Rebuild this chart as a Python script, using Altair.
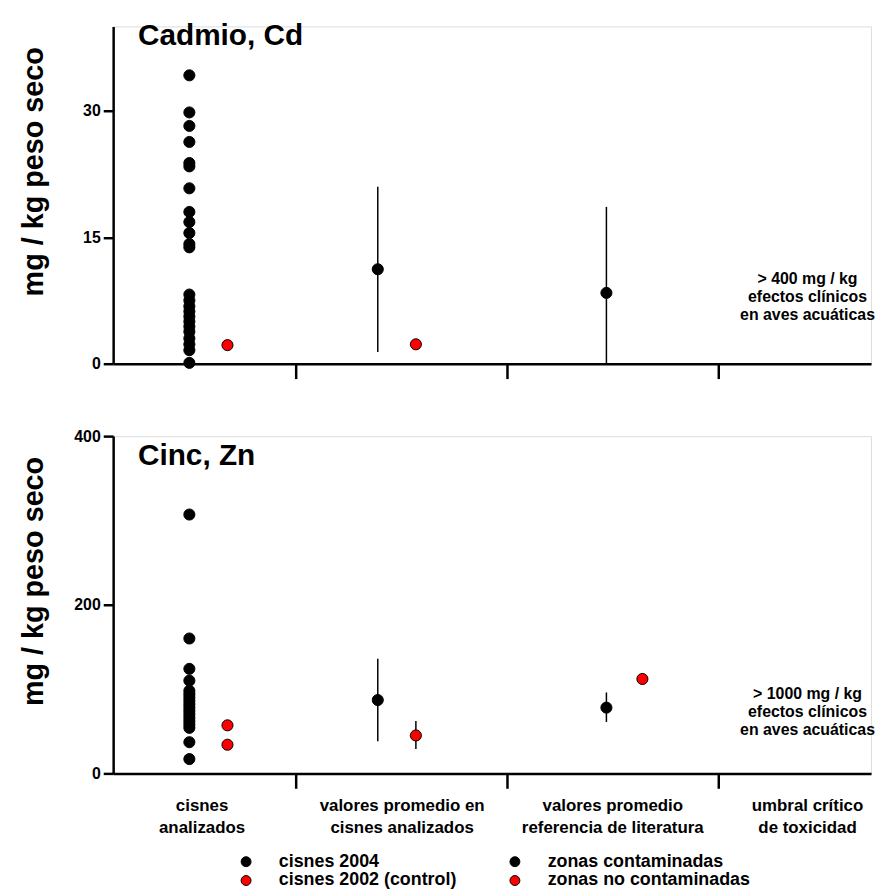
import altair as alt
import pandas as pd

FONT = "Liberation Sans"
BLACK = "#000000"
RED = "#ff0000"

# ---------------- data ----------------
# x axis is a numeric position scale: ticks at 1, 2, 3 separate the four groups
cd_2004 = [34.2, 29.8, 28.2, 26.3, 23.8, 23.4, 20.8, 18.0, 16.8, 15.5, 14.2, 13.8,
           8.2, 7.5, 6.8, 6.2, 5.6, 5.0, 4.4, 3.8, 3.0, 2.3, 1.6, 0.1]
cd_2002 = [2.2]
zn_2004 = [307, 160, 124, 110, 98, 94, 90, 86, 82, 78, 74, 70, 66, 62, 58, 54, 37, 17]
zn_2002 = [57, 34]
x_2004 = 0.50
x_2002 = 0.68

mean_group = ["cisnes 2004", "cisnes 2002 (control)", "zonas contaminadas", "zonas no contaminadas"]
mean_x = [1.39, 1.57, 2.47, 2.64]
cd_mean = [11.2, 2.3, 8.4, None]
cd_low = [1.4, None, 0.0, None]
cd_high = [21.0, None, 18.6, None]
zn_mean = [87, 45, 78, 112]
zn_low = [38, 29, 61, None]
zn_high = [136, 62, 96, None]

cat_labels = ["cisnes\nanalizados", "valores promedio en\ncisnes analizados",
              "valores promedio\nreferencia de literatura", "umbral crítico\nde toxicidad"]
cat_label_x = [0.56, 1.505, 2.50, 3.42]

note_x = 3.42
cd_note = "> 400 mg / kg\nefectos clínicos\nen aves acuáticas"
cd_note_y = 10.0
zn_note = "> 1000 mg / kg\nefectos clínicos\nen aves acuáticas"
zn_note_y = 94

legend_order = ["cisnes 2004", "cisnes 2002 (control)", "zonas contaminadas", "zonas no contaminadas"]
legend_colors = [BLACK, RED, BLACK, RED]

X_DOMAIN = [0.14, 3.72]
W, H = 764, 340


def points_frame(v2004, v2002, mx, mv, mlo, mhi):
    rows = [{"x": x_2004, "v": v, "g": "cisnes 2004"} for v in v2004]
    rows += [{"x": x_2002, "v": v, "g": "cisnes 2002 (control)"} for v in v2002]
    for g, x, v in zip(mean_group, mx, mv):
        if v is not None:
            rows.append({"x": x, "v": v, "g": g})
    pts = pd.DataFrame(rows)
    err = pd.DataFrame([{"x": x, "lo": lo, "hi": hi}
                        for x, lo, hi in zip(mx, mlo, mhi) if lo is not None])
    return pts, err


def panel(v2004, v2002, mv, mlo, mhi, ydom, yticks, title, note, note_y, bottom):
    pts, err = points_frame(v2004, v2002, mean_x, mv, mlo, mhi)
    xscale = alt.Scale(domain=X_DOMAIN, nice=False, zero=False)
    yscale = alt.Scale(domain=ydom, nice=False, zero=True)
    xaxis = alt.Axis(values=[1, 2, 3], labels=False, title=None, grid=False,
                     tickSize=15, tickWidth=2.5, domainWidth=2.5,
                     domainColor=BLACK, tickColor=BLACK)
    yaxis = alt.Axis(values=yticks, title="mg / kg peso seco", grid=False,
                     tickSize=10, tickWidth=2.5, domainWidth=2.5,
                     domainColor=BLACK, tickColor=BLACK,
                     labelFont=FONT, labelFontSize=16, labelFontWeight="bold",
                     labelColor=BLACK, labelPadding=3,
                     titleFont=FONT, titleFontSize=29, titleFontWeight="bold",
                     titleColor=BLACK, titleY=146, titleX=-65)

    rules = alt.Chart(err).mark_rule(color=BLACK, strokeWidth=1.5).encode(
        x=alt.X("x:Q", scale=xscale, axis=xaxis),
        y=alt.Y("lo:Q", scale=yscale, axis=yaxis),
        y2="hi:Q",
    )
    legend = None
    if bottom:
        legend = alt.Legend(title=None, orient="none", legendX=125, legendY=420,
                            columns=2, columnPadding=49, rowPadding=1,
                            labelFont=FONT, labelFontSize=18, labelFontWeight="bold",
                            labelColor=BLACK, labelOffset=24, labelLimit=500,
                            symbolType="circle",
                            symbolSize=100, symbolStrokeColor=BLACK,
                            symbolStrokeWidth=1, symbolOpacity=1)
    dots = alt.Chart(pts).mark_circle(size=125, stroke=BLACK, strokeWidth=1,
                                      opacity=1).encode(
        x=alt.X("x:Q", scale=xscale, axis=xaxis),
        y=alt.Y("v:Q", scale=yscale, axis=yaxis),
        color=alt.Color("g:N", scale=alt.Scale(domain=legend_order, range=legend_colors),
                        legend=legend),
    )
    head = alt.Chart(pd.DataFrame({"t": [title]})).mark_text(
        font=FONT, fontSize=30, fontWeight="bold", align="left", baseline="middle",
        color=BLACK).encode(text="t:N", x=alt.value(25), y=alt.value(10 if not bottom else 20))
    nt = alt.Chart(pd.DataFrame({"x": [note_x], "v": [note_y], "t": [note]})).mark_text(
        font=FONT, fontSize=16, fontWeight="bold", align="center", baseline="middle",
        lineBreak="\n", lineHeight=18, color=BLACK).encode(
        x=alt.X("x:Q", scale=xscale, axis=xaxis),
        y=alt.Y("v:Q", scale=yscale, axis=yaxis),
        text="t:N")
    layers = [rules, dots, head, nt]
    if bottom:
        lab = alt.Chart(pd.DataFrame({"x": cat_label_x, "t": cat_labels})).mark_text(
            font=FONT, fontSize=17, fontWeight="bold", align="center", baseline="top",
            lineBreak="\n", lineHeight=22, color=BLACK).encode(
            x=alt.X("x:Q", scale=xscale, axis=xaxis),
            y=alt.value(H + 25),
            text="t:N")
        layers.append(lab)
    return alt.layer(*layers).properties(width=W, height=H)


top = panel(cd_2004, cd_2002, cd_mean, cd_low, cd_high, [0, 40], [0, 15, 30],
            "Cadmio, Cd", cd_note, cd_note_y, False)
bottom = panel(zn_2004, zn_2002, zn_mean, zn_low, zn_high, [0, 400], [0, 200, 400],
               "Cinc, Zn", zn_note, zn_note_y, True)

chart = alt.vconcat(top, bottom, spacing=47).resolve_scale(
    x="independent", y="independent", color="independent"
).resolve_legend(color="independent").properties(
    padding={"top": 9, "left": 11, "right": 0, "bottom": 0}
).configure_view(stroke=None).configure(background="white")

chart.save("out.html", embed_options={"renderer": "svg", "actions": False})
